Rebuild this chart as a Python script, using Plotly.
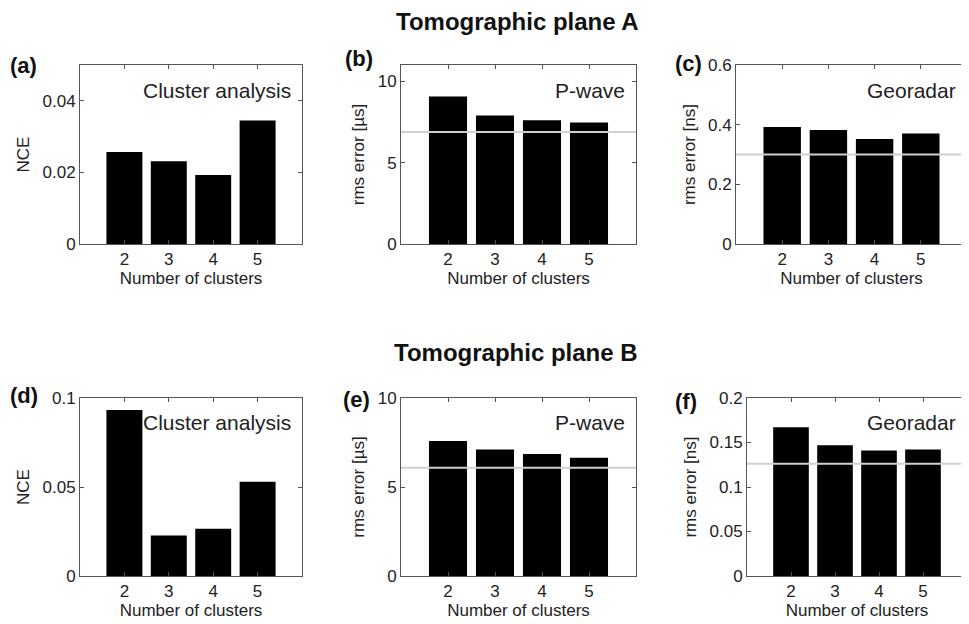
import plotly.graph_objects as go
from plotly.subplots import make_subplots

# data
clusters = [2, 3, 4, 5]

nce_a = [0.0257, 0.0231, 0.0193, 0.0345]
pwave_a = [9.07, 7.90, 7.61, 7.47]
radar_a = [0.392, 0.382, 0.352, 0.370]

nce_b = [0.0932, 0.0228, 0.0266, 0.0530]
pwave_b = [7.59, 7.10, 6.86, 6.65]
radar_b = [0.167, 0.147, 0.141, 0.142]

# grey reference levels
pwave_ref_a = 6.89
radar_ref_a = 0.30
pwave_ref_b = 6.08
radar_ref_b = 0.126

panel_labels = ["(a)", "(b)", "(c)", "(d)", "(e)", "(f)"]
panel_names = ["Cluster analysis", "P-wave", "Georadar"] * 2
y_titles = ["NCE", "rms error [µs]", "rms error [ns]"] * 2

FONT = "Liberation Sans, Arial, sans-serif"
# the page body has an 8px margin, so the figure is drawn 8px in from the window corner
OX, OY = 8, 8
W, H = 969 - OX, 624 - OY


def fx(px):
    return (px - OX) / W


def fy(py):
    return 1 - (py - OY) / H


fig = make_subplots(rows=2, cols=3)

series = [nce_a, pwave_a, radar_a, nce_b, pwave_b, radar_b]
for i, vals in enumerate(series):
    fig.add_trace(
        go.Bar(x=clusters, y=vals, marker=dict(color="black", line=dict(width=0)),
               showlegend=False),
        row=i // 3 + 1, col=i % 3 + 1,
    )

for (val, r, c) in [(pwave_ref_a, 1, 2), (radar_ref_a, 1, 3),
                    (pwave_ref_b, 2, 2), (radar_ref_b, 2, 3)]:
    fig.add_hline(y=val, line=dict(color="#d0d0d0", width=2), layer="above", row=r, col=c)

# window-pixel boxes (left, right, top, bottom) of each axes
boxes = [
    (80, 302, 65, 244), (401, 636, 65, 244), (736, 967, 65, 244),
    (80, 302, 398, 576), (401, 636, 398, 576), (747, 967, 398, 576),
]
y_ranges = [[0, 0.05], [0, 11], [0, 0.6], [0, 0.1], [0, 10], [0, 0.2]]
y_ticks = [
    ([0, 0.02, 0.04], ["0", "0.02", "0.04"]),
    ([0, 5, 10], ["0", "5", "10"]),
    ([0, 0.2, 0.4, 0.6], ["0", "0.2", "0.4", "0.6"]),
    ([0, 0.05, 0.1], ["0", "0.05", "0.1"]),
    ([0, 5, 10], ["0", "5", "10"]),
    ([0, 0.05, 0.1, 0.15, 0.2], ["0", "0.05", "0.1", "0.15", "0.2"]),
]

axis_common = dict(
    showline=True, linecolor="#555", linewidth=1, mirror="allticks",
    ticks="inside", ticklen=4, tickcolor="#555", showgrid=False, zeroline=False,
    automargin=False, tickfont=dict(size=17, color="#222", family=FONT),
)

for i, (l, r, t, b) in enumerate(boxes):
    n = "" if i == 0 else str(i + 1)
    fig.update_layout({
        f"xaxis{n}": dict(
            domain=[fx(l), min(fx(r), 1)], range=[1, 6], tickvals=clusters,
            title=dict(text="Number of clusters", font=dict(size=17, color="#222", family=FONT),
                       standoff=2),
            **axis_common,
        ),
        f"yaxis{n}": dict(
            domain=[fy(b), fy(t)], range=y_ranges[i],
            tickvals=y_ticks[i][0], ticktext=y_ticks[i][1],
            title=dict(text=y_titles[i], font=dict(size=17, color="#222", family=FONT),
                       standoff=8),
            **axis_common,
        ),
    })
    fig.add_annotation(
        xref=f"x{n} domain", yref=f"y{n} domain", x=0.96, y=0.86,
        text=panel_names[i], showarrow=False, xanchor="right", yanchor="middle",
        font=dict(size=21, color="#222", family=FONT),
    )

label_pos = [(8, 65), (343, 58), (673, 63), (8, 395), (341, 399), (673, 401)]
for lab, (px, py) in zip(panel_labels, label_pos):
    fig.add_annotation(
        xref="paper", yref="paper", x=fx(px), y=fy(py), text=f"<b>{lab}</b>",
        showarrow=False, xanchor="left", yanchor="middle",
        font=dict(size=22, color="#111", family=FONT),
    )

for txt, (cx, cy) in [("Tomographic plane A", (518, 22)), ("Tomographic plane B", (516, 352))]:
    fig.add_annotation(
        xref="paper", yref="paper", x=fx(cx), y=fy(cy), text=f"<b>{txt}</b>",
        showarrow=False, xanchor="center", yanchor="middle",
        font=dict(size=24, color="#111", family=FONT),
    )

fig.update_layout(
    template="none",
    width=W, height=H, margin=dict(l=0, r=0, t=0, b=0, autoexpand=False),
    plot_bgcolor="white", paper_bgcolor="white",
    bargap=0.19, font=dict(family=FONT),
)

fig.write_html("out.html")
